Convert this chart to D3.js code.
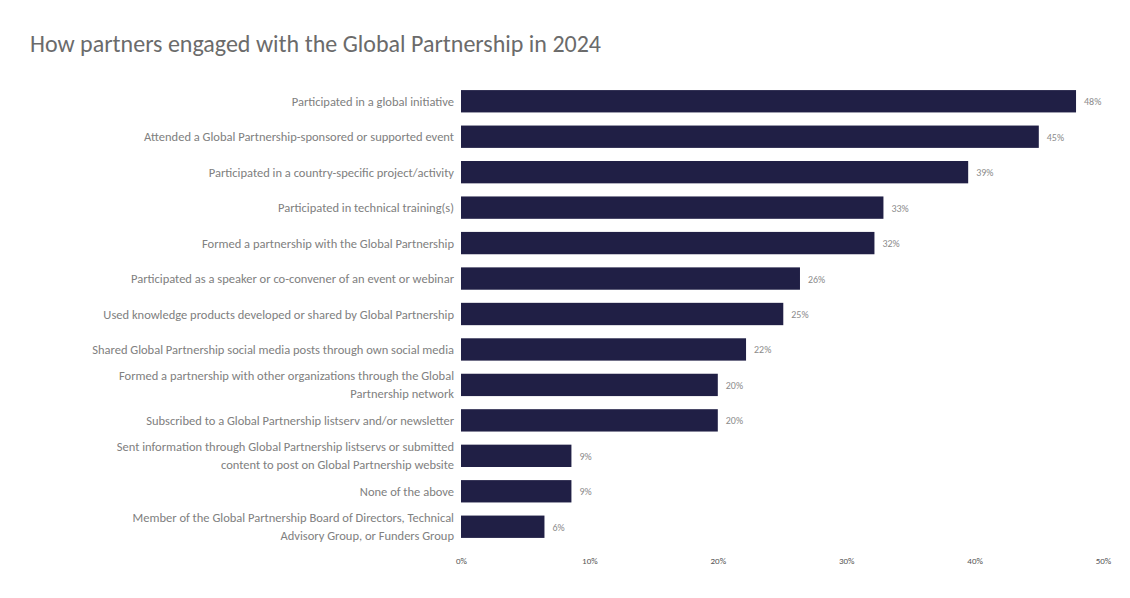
<!DOCTYPE html>
<html>
<head>
<meta charset="utf-8">
<script src="https://cdn.jsdelivr.net/npm/d3@7"></script>
<style>
  body { margin: 0; background: #fff; }
  text { font-family: Calibri, Carlito, "Liberation Sans", "Open Sans", sans-serif; }
</style>
</head>
<body>
<svg id="chart" width="1130" height="598"></svg>
<script>
// engagement categories, top to bottom
var categories = [
  ["Participated in a global initiative"],
  ["Attended a Global Partnership-sponsored or supported event"],
  ["Participated in a country-specific project/activity"],
  ["Participated in technical training(s)"],
  ["Formed a partnership with the Global Partnership"],
  ["Participated as a speaker or co-convener of an event or webinar"],
  ["Used knowledge products developed or shared by Global Partnership"],
  ["Shared Global Partnership social media posts through own social media"],
  ["Formed a partnership with other organizations through the Global", "Partnership network"],
  ["Subscribed to a Global Partnership listserv and/or newsletter"],
  ["Sent information through Global Partnership listservs or submitted", "content to post on Global Partnership website"],
  ["None of the above"],
  ["Member of the Global Partnership Board of Directors, Technical", "Advisory Group, or Funders Group"]
];
var values = [47.9, 45.0, 39.5, 32.9, 32.2, 26.4, 25.1, 22.2, 20.0, 20.0, 8.6, 8.6, 6.5];
var valueLabels = ["48%", "45%", "39%", "33%", "32%", "26%", "25%", "22%", "20%", "20%", "9%", "9%", "6%"];
var ticks = [0, 10, 20, 30, 40, 50];

var svg = d3.select("#chart");

svg.append("text")
  .attr("x", 30).attr("y", 52)
  .attr("font-size", 24).attr("fill", "#6b6b6b")
  .text("How partners engaged with the Global Partnership in 2024");

var x = d3.scaleLinear().domain([0, 50]).range([461, 1103]);
var y = d3.scaleBand().domain(d3.range(categories.length)).range([83, 545]).paddingInner(0.37).paddingOuter(0.2);

var rows = svg.append("g").selectAll("g").data(values).enter().append("g");

rows.append("rect")
  .attr("x", x(0))
  .attr("y", function(d, i){ return y(i); })
  .attr("width", function(d){ return x(d) - x(0); })
  .attr("height", y.bandwidth())
  .attr("fill", "#201f45");

rows.append("text")
  .attr("x", function(d){ return x(d) + 8; })
  .attr("y", function(d, i){ return y(i) + y.bandwidth() / 2 + 4; })
  .attr("font-size", 10).attr("fill", "#8c8c8c")
  .text(function(d, i){ return valueLabels[i]; });

rows.each(function(d, i){
  var lines = categories[i];
  var cy = y(i) + y.bandwidth() / 2;
  var t = d3.select(this).append("text")
    .attr("text-anchor", "end")
    .attr("font-size", 12.5).attr("fill", "#808080");
  lines.forEach(function(l, j){
    t.append("tspan")
      .attr("x", 454)
      .attr("y", cy + 4.5 + (j - (lines.length - 1) / 2) * 18)
      .text(l);
  });
});

var axis = d3.axisBottom(x).tickValues(ticks).tickSize(0).tickFormat(function(d){ return d + "%"; });
var ag = svg.append("g").attr("transform", "translate(0,555)").call(axis);
ag.select(".domain").remove();
ag.selectAll("text").attr("font-size", 9).attr("fill", "#555")
  .style("font-family", "Calibri, Carlito, 'Liberation Sans', sans-serif");
</script>
</body>
</html>
